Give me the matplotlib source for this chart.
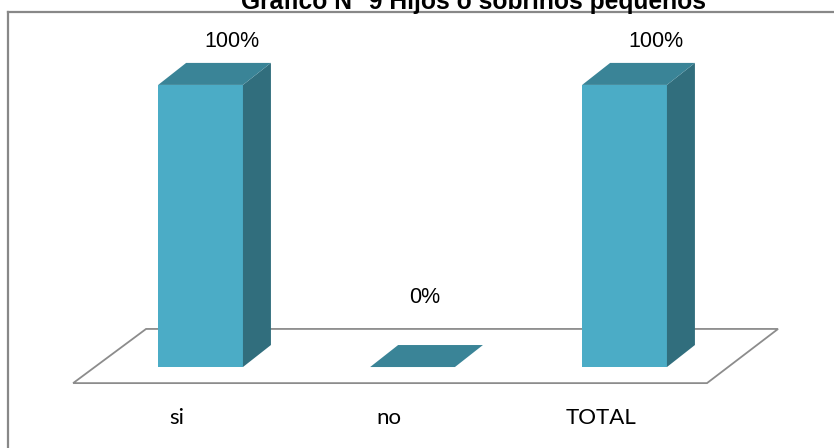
import matplotlib
matplotlib.use("Agg")
import matplotlib.pyplot as plt
from matplotlib.patches import Polygon
from matplotlib.lines import Line2D

# -------------------------------------------------------------------------
# Data
# -------------------------------------------------------------------------

categories = ["si", "no", "TOTAL"]
values = [1.0, 0.0, 1.0]
value_labels = ["100%", "0%", "100%"]
title = "Gráfico N° 9 Hijos o sobrinos pequeños"

# -------------------------------------------------------------------------
# Style / geometry (data units: 1 category step, 1.0 = 100%)
# -------------------------------------------------------------------------

FRONT = "#4BACC6"
TOP = "#3A8497"
SIDE = "#316E7D"
GRID = "#8C8C8C"

BAR_W = 0.40
DEPTH_X = 0.132
DEPTH_Y = 0.078

fig = plt.figure(figsize=(8.34, 4.48), dpi=100)
ax = fig.add_axes([0, 0, 1, 1])
ax.set_xlim(-0.946, 2.988)
ax.set_ylim(-0.287, 1.301)
ax.axis("off")

# floor of the 3D plot
floor = Polygon([(-0.601, -0.057), (2.389, -0.057), (2.724, 0.135), (-0.257, 0.135)],
                closed=True, facecolor="white", edgecolor=GRID, lw=1.3, zorder=1)
ax.add_patch(floor)

# bars
for i, v in enumerate(values):
    x0 = i - BAR_W / 2
    x1 = i + BAR_W / 2
    front = Polygon([(x0, 0), (x1, 0), (x1, v), (x0, v)], closed=True,
                    facecolor=FRONT, edgecolor="none", zorder=3)
    side = Polygon([(x1, 0), (x1 + DEPTH_X, DEPTH_Y), (x1 + DEPTH_X, v + DEPTH_Y), (x1, v)],
                   closed=True, facecolor=SIDE, edgecolor="none", zorder=3)
    top = Polygon([(x0, v), (x1, v), (x1 + DEPTH_X, v + DEPTH_Y), (x0 + DEPTH_X, v + DEPTH_Y)],
                  closed=True, facecolor=TOP, edgecolor="none", zorder=3)
    for p in (front, side, top):
        ax.add_patch(p)

    # value label above the bar
    lx = i + 0.057 + 0.093 * v
    ly = v + 0.245 - 0.09 * v
    ax.text(lx, ly, value_labels[i], ha="center", va="center",
            fontsize=15.5, family="Liberation Sans", color="black", zorder=4)

    # category label under the floor
    ax.text(i - 0.113, -0.181, categories[i], ha="center", va="center",
            fontsize=16, family="Lato", color="black", zorder=4)

# chart border (only top and left visible; rest falls outside the image)
W, H = 834, 448
fig.add_artist(Line2D([8 / W, 8 / W], [0, 1 - 12 / H], transform=fig.transFigure,
                      color="#888888", lw=1.6))
fig.add_artist(Line2D([8 / W, 1], [1 - 12 / H, 1 - 12 / H], transform=fig.transFigure,
                      color="#888888", lw=1.6))

# title, cut off by the top of the image
fig.text(0.568, 1 - 9.5 / H, title, ha="center", va="baseline",
         fontsize=17.7, fontweight="bold", family="Liberation Sans", color="black")

plt.savefig("out.png", dpi=100)
plt.close()
